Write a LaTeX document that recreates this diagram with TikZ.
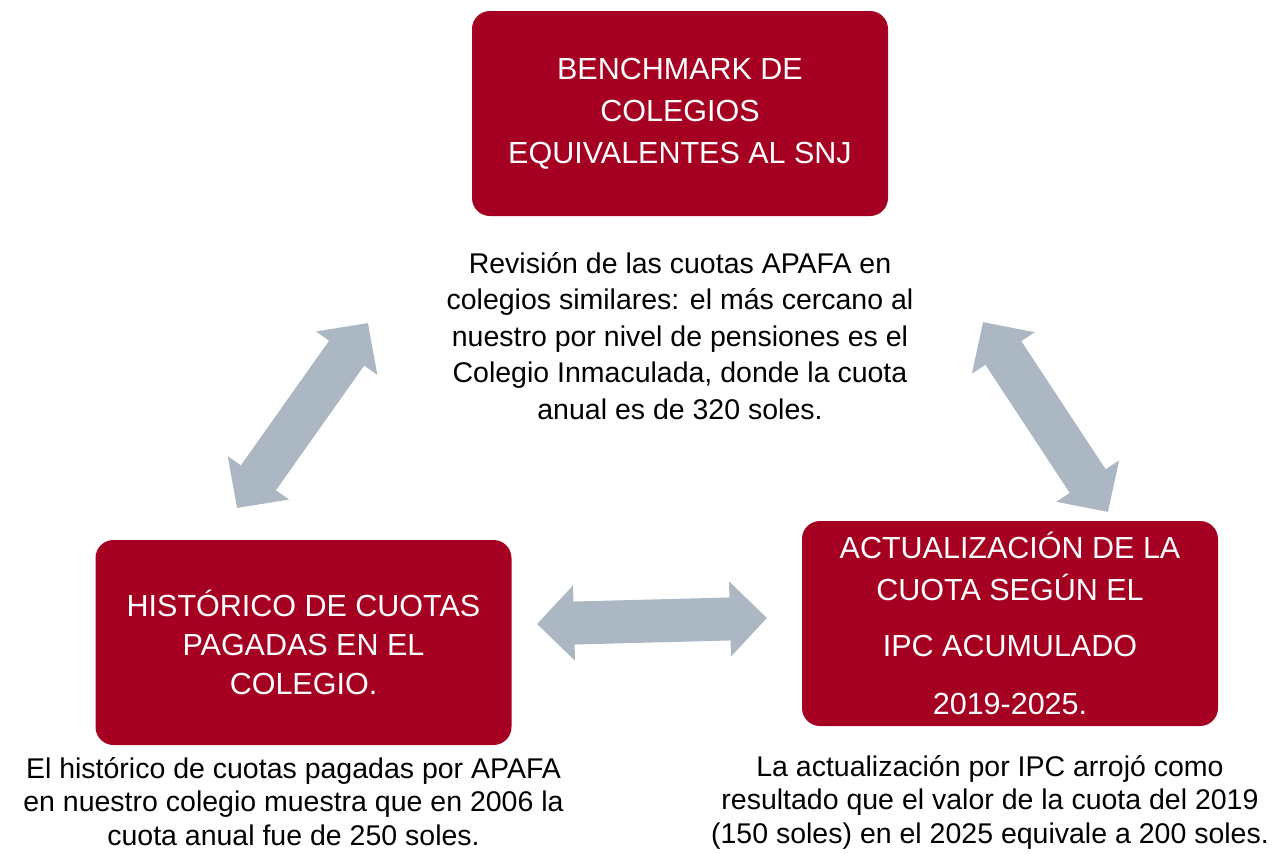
\documentclass[tikz,border=0pt]{standalone}
\usepackage{fontspec}
\setmainfont{Liberation Sans}
\usepackage{xcolor}
\usepackage{tikz}
\usetikzlibrary{positioning,arrows.meta}
\definecolor{boxred}{HTML}{A50021}
\definecolor{arrowgray}{HTML}{ABB8C3}
\tikzstyle{block} = [fill=boxred, rounded corners=18pt, minimum width=416pt, minimum height=205pt, text=white, align=center, font=\fontsize{30.5}{42}\selectfont]
\tikzstyle{note} = [align=center, inner sep=0pt, font=\fontsize{28.5}{33.5}\selectfont]
\tikzstyle{fat} = [draw=arrowgray, line width=43pt, {Triangle[width=73pt,length=37pt]}-{Triangle[width=73pt,length=37pt]}]

\begin{document}
\begin{tikzpicture}[x=1pt,y=-1pt]
		\useasboundingbox (0,0) rectangle (1278,854);
		\node [block] (bench) at (680,113.5) {BENCHMARK DE\\COLEGIOS\\EQUIVALENTES AL SNJ};
		\node [block] (hist) at (303.5,642.5) {HISTÓRICO DE CUOTAS\\[-3pt]PAGADAS EN EL\\[-3pt]COLEGIO.};
		\node [block] (ipc) at (1010,623.5) {ACTUALIZACIÓN DE LA\\CUOTA SEGÚN EL\\[14pt]IPC ACUMULADO\\[16pt]2019-2025.};
		\node [note, font=\fontsize{28.5}{36.5}\selectfont, below=36pt of bench] (benchtxt) {Revisión de las cuotas APAFA en\\colegios similares: el más cercano al\\nuestro por nivel de pensiones es el\\Colegio Inmaculada, donde la cuota\\anual es de 320 soles.};
		\node [note, below=12pt of hist.south, xshift=-10pt] (histtxt) {El histórico de cuotas pagadas por APAFA\\en nuestro colegio muestra que en 2006 la\\cuota anual fue de 250 soles.};
		\node [note, below=29pt of ipc.south, xshift=-20pt] (ipctxt) {La actualización por IPC arrojó como\\resultado que el valor de la cuota del 2019\\(150 soles) en el 2025 equivale a 200 soles.};

		% ends of the fat arrows
		\coordinate (hb1) at (237,508);
		\coordinate (hb2) at (368,323);
		\coordinate (bi1) at (983,322);
		\coordinate (bi2) at (1108,512);
		\coordinate (hi1) at (537,624);
		\coordinate (hi2) at (767,618);

		\draw [fat] (hb1) -- (hb2);
		\draw [fat] (bi1) -- (bi2);
		\draw [fat] (hi1) -- (hi2);
	\end{tikzpicture}
\end{document}
